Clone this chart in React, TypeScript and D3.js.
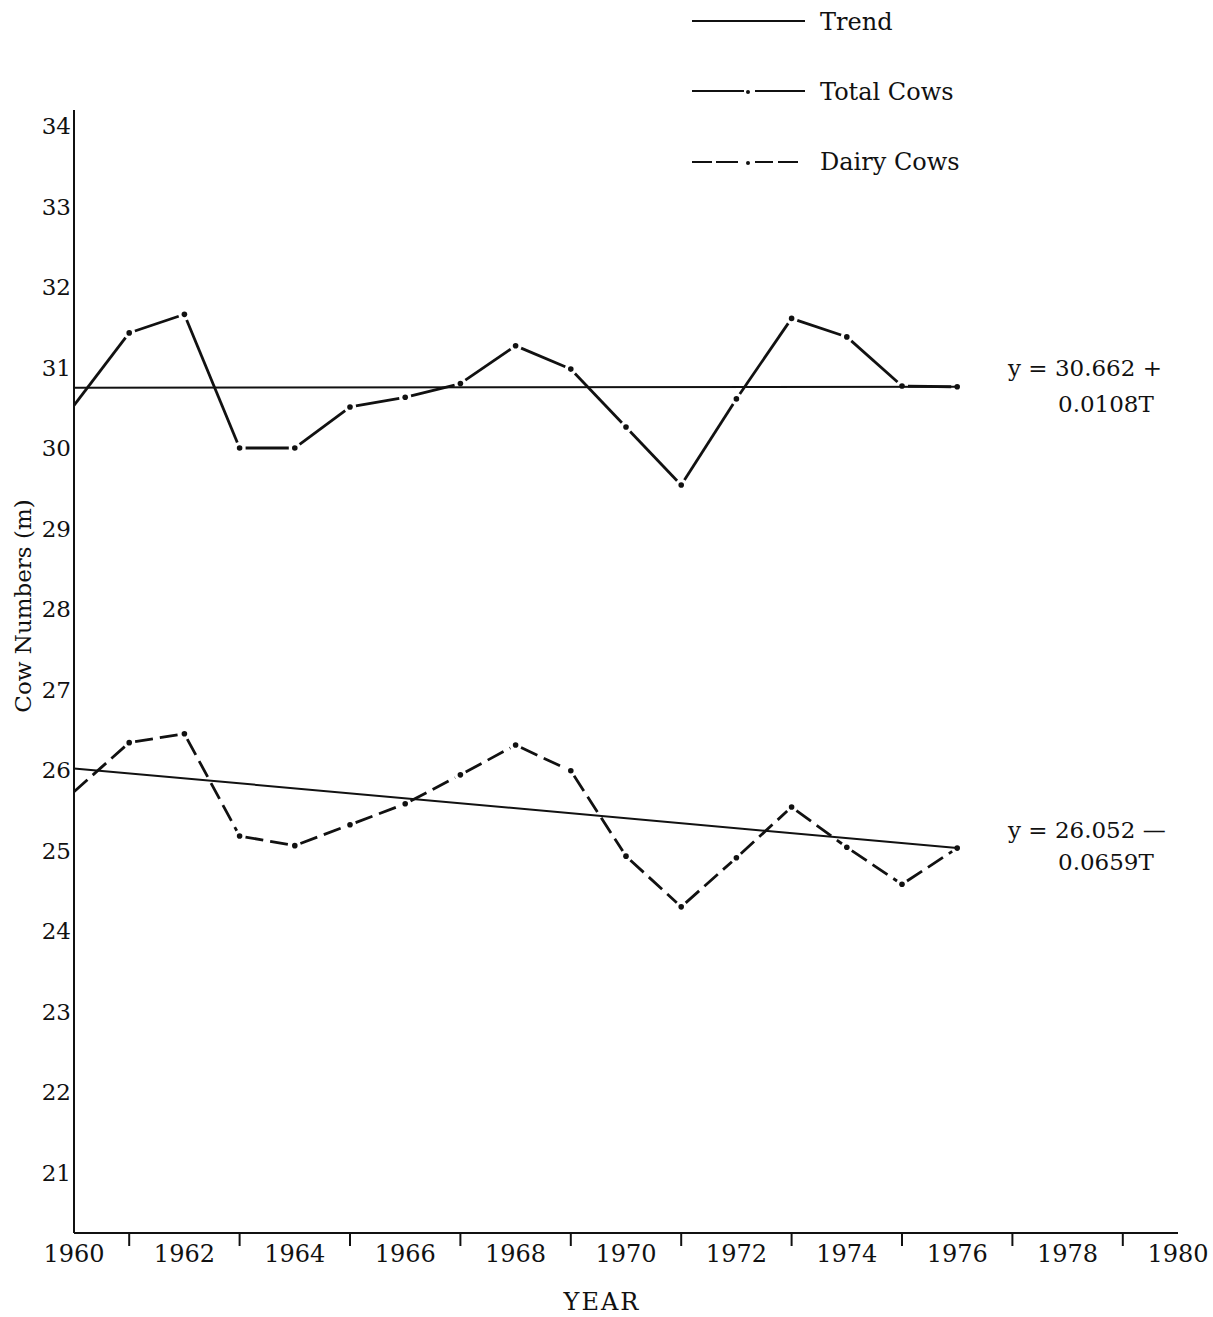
import React from "react";
import * as d3 from "d3";

const years = [1960, 1961, 1962, 1963, 1964, 1965, 1966, 1967, 1968, 1969, 1970, 1971, 1972, 1973, 1974, 1975, 1976];
const totalCows = [30.53, 31.43, 31.66, 30.0, 30.0, 30.51, 30.63, 30.8, 31.27, 30.98, 30.26, 29.54, 30.61, 31.61, 31.38, 30.77, 30.76];
const dairyCows = [25.73, 26.34, 26.45, 25.18, 25.06, 25.32, 25.58, 25.94, 26.31, 25.99, 24.93, 24.3, 24.91, 25.54, 25.04, 24.58, 25.03];
const totalTrend = [[1960, 30.75], [1976, 30.76]];
const dairyTrend = [[1960, 26.02], [1976, 25.03]];
const yTicks = [21, 22, 23, 24, 25, 26, 27, 28, 29, 30, 31, 32, 33, 34];
const xLabelYears = [1960, 1962, 1964, 1966, 1968, 1970, 1972, 1974, 1976, 1978, 1980];
const xTickYears = [1961, 1963, 1965, 1967, 1969, 1971, 1973, 1975, 1977, 1979];
const totalEq = ["y = 30.662 +", "0.0108T"];
const dairyEq = ["y = 26.052 \u2014", "0.0659T"];
const legendItems = ["Trend", "Total Cows", "Dairy Cows"];

const FONT = "'DejaVu Serif', serif";

const x = d3.scaleLinear().domain([1960, 1980]).range([74, 1178]);
const y = d3.scaleLinear().domain([30, 31]).range([448, 367.5]);
const yMin = y.invert(1233);
const yMax = y.invert(110);

function Series({ values, dashed }: { values: number[]; dashed: boolean }) {
  const pts = years.map((yr, i) => [x(yr), y(values[i])]);
  const segs: JSX.Element[] = [];
  for (let i = 0; i < pts.length - 1; i++) {
    const [x0, y0] = pts[i];
    const [x1, y1] = pts[i + 1];
    const len = Math.hypot(x1 - x0, y1 - y0);
    const ux = (x1 - x0) / len;
    const uy = (y1 - y0) / len;
    const g0 = i === 0 ? 0 : 6;
    const g1 = 6;
    segs.push(
      <line
        key={"s" + i}
        x1={x0 + ux * g0}
        y1={y0 + uy * g0}
        x2={x1 - ux * g1}
        y2={y1 - uy * g1}
        stroke="#111"
        strokeWidth={2.8}
        strokeDasharray={dashed ? "18 7" : undefined}
      />
    );
  }
  return (
    <g>
      {segs}
      {pts.slice(1).map((p, i) => (
        <circle key={"c" + i} cx={p[0]} cy={p[1]} r={2.8} fill="#111" />
      ))}
    </g>
  );
}

export default function App() {
  const trendLine = d3
    .line<number[]>()
    .x((d) => x(d[0]))
    .y((d) => y(d[1]));
  return (
    <svg
      width={1213}
      height={1317}
      style={{ position: "absolute", left: 0, top: 0, background: "#fff" }}
      fontFamily={FONT}
    >
      <rect x={0} y={0} width={1213} height={1317} fill="#fff" />
      {/* axes */}
      <line x1={x(1960)} y1={y(yMax)} x2={x(1960)} y2={y(yMin)} stroke="#111" strokeWidth={2} />
      <line x1={x(1960)} y1={y(yMin)} x2={x(1980)} y2={y(yMin)} stroke="#111" strokeWidth={2} />
      {xTickYears.map((yr) => (
        <line key={yr} x1={x(yr)} y1={y(yMin)} x2={x(yr)} y2={y(yMin) + 13} stroke="#111" strokeWidth={2} />
      ))}
      {xLabelYears.map((yr) => (
        <text key={yr} x={x(yr)} y={1262} textAnchor="middle" fontSize={24} fill="#111">
          {yr}
        </text>
      ))}
      {yTicks.map((v) => (
        <text key={v} x={x(1960) - 3} y={y(v) + 8} textAnchor="end" fontSize={23} fill="#111">
          {v}
        </text>
      ))}
      <text
        transform={`translate(31, 606) rotate(-90)`}
        textAnchor="middle"
        fontSize={23}
        fill="#111"
      >
        Cow Numbers (m)
      </text>
      <text x={602} y={1310} textAnchor="middle" fontSize={24} letterSpacing={2} fill="#111">
        YEAR
      </text>

      {/* trends */}
      <path d={trendLine(totalTrend) || ""} stroke="#111" strokeWidth={2} fill="none" />
      <path d={trendLine(dairyTrend) || ""} stroke="#111" strokeWidth={2} fill="none" />

      {/* series */}
      <Series values={totalCows} dashed={false} />
      <Series values={dairyCows} dashed={true} />

      {/* equations */}
      <text x={1008} y={376} fontSize={23} fill="#111">{totalEq[0]}</text>
      <text x={1058} y={412} fontSize={23} fill="#111">{totalEq[1]}</text>
      <text x={1008} y={838} fontSize={23} fill="#111">{dairyEq[0]}</text>
      <text x={1058} y={870} fontSize={23} fill="#111">{dairyEq[1]}</text>

      {/* legend */}
      <g>
        <line x1={692} y1={21} x2={805} y2={21} stroke="#111" strokeWidth={2} />
        <text x={820} y={30} fontSize={24} fill="#111">{legendItems[0]}</text>

        <line x1={692} y1={91} x2={744} y2={91} stroke="#111" strokeWidth={2} />
        <circle cx={748} cy={92} r={2} fill="#111" />
        <line x1={755} y1={91} x2={805} y2={91} stroke="#111" strokeWidth={2} />
        <text x={820} y={100} fontSize={24} fill="#111">{legendItems[1]}</text>

        <line x1={692} y1={162} x2={712} y2={162} stroke="#111" strokeWidth={2} />
        <line x1={716} y1={162} x2={738} y2={162} stroke="#111" strokeWidth={2} />
        <circle cx={748} cy={163} r={2} fill="#111" />
        <line x1={755} y1={162} x2={773} y2={162} stroke="#111" strokeWidth={2} />
        <line x1={778} y1={162} x2={798} y2={162} stroke="#111" strokeWidth={2} />
        <text x={820} y={170} fontSize={24} fill="#111">{legendItems[2]}</text>
      </g>
    </svg>
  );
}
